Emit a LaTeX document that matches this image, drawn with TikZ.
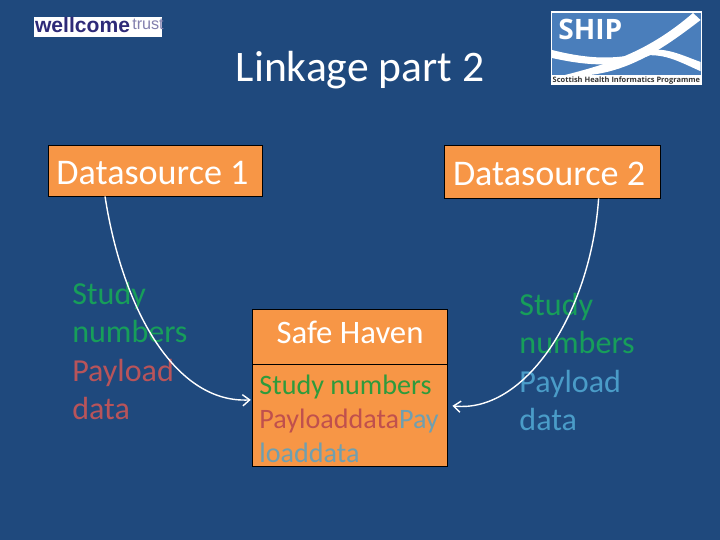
\documentclass[tikz,border=0pt]{standalone}
\usepackage{fontspec}
\setmainfont{Carlito}
\newfontfamily\logofont{Liberation Sans}
\newfontfamily\shipfont{Open Sans}
\usetikzlibrary{arrows.meta, calc}
\definecolor{kback}{HTML}{1F497D}
\definecolor{korange}{HTML}{F79646}
\definecolor{kgreen}{HTML}{179E5A}
\definecolor{kgreenb}{HTML}{2E9B3C}
\definecolor{kred}{HTML}{B8545A}
\definecolor{kredb}{HTML}{C0504D}
\definecolor{kcyan}{HTML}{4A9CC8}
\definecolor{kcyanb}{HTML}{6F9FB0}
\definecolor{kship}{HTML}{4A7EBB}
\definecolor{kwell}{HTML}{2E2A78}
\tikzset{
  titletext/.style={font=\fontsize{31}{36}\selectfont, text=white},
  sourcebox/.style={draw=black, line width=0.6pt, fill=korange, text=white, font=\fontsize{25.7}{30}\selectfont, inner sep=0pt, align=flush left, text height=0.68cm, text depth=0pt},
  listtext/.style={font=\fontsize{22.8}{27.3}\selectfont, align=flush left, anchor=north west, inner sep=0pt},
  linkarrow/.style={draw=white, line width=1pt, -{Straight Barb[length=5pt,width=8pt,line width=1pt]}},
}
\begin{document}
\begin{tikzpicture}[x=1cm, y=1cm]
\fill[kback] (0,0) rectangle (18,13.5);
% logos
\fill[white] (0.85,12.575) rectangle (4.05,13.075);
\node[font=\logofont\fontsize{15}{16}\selectfont\bfseries, text=kwell, anchor=base west, inner sep=0pt] (wellcome) at (0.87,12.675) {wellcome};
\node[font=\logofont\fontsize{11.5}{12}\selectfont, text=kwell!60, anchor=base west, inner sep=0pt] (trust) at (3.3,12.75) {trust};
\fill[white] (13.775,11.375) rectangle (17.55,13.225);
\fill[kship] (13.8,11.625) rectangle (17.515,13.175);
\node[font=\shipfont\fontsize{20}{22}\selectfont\bfseries, text=white, anchor=base west, inner sep=0pt] (ship) at (13.95,12.5) {SHIP};
\fill[white] (14.125,11.625) .. controls (15.2,11.9) and (16.2,12.2) .. (17.325,13.175) -- (17.515,13.0) .. controls (16.6,12.3) and (15.8,11.75) .. (14.75,11.625) -- cycle;
\fill[white] (13.8,12.25) .. controls (14.8,12.0) and (15.5,12.0) .. (16.3,12.25) .. controls (16.7,12.3) and (17.1,12.1) .. (17.515,11.95) -- (17.515,11.72) .. controls (17.0,11.95) and (16.7,12.12) .. (16.25,12.12) .. controls (15.5,11.8) and (14.7,11.85) .. (13.8,12.05) -- cycle;
\node[font=\shipfont\fontsize{5.3}{6}\selectfont\bfseries, text=black!80, anchor=base, inner sep=0pt] (shipcaption) at (15.66,11.44) {Scottish Health Informatics Programme};
% title
\node[titletext] (title) at (9,11.745) {Linkage part 2};
% boxes
\node[sourcebox, minimum width=5.36cm, minimum height=1.275cm, text width=4.96cm] (source1) at (3.89,9.2375) {Datasource 1};
\node[sourcebox, minimum width=5.4cm, minimum height=1.325cm, text width=4.95cm] (source2) at (13.8,9.2125) {Datasource 2};
\node[sourcebox, minimum width=4.86cm, minimum height=1.375cm, font=\fontsize{23.3}{27}\selectfont, align=flush center, text width=4.6cm, text height=0.6cm, text depth=0.25cm] (haven) at (8.75,5.0875) {Safe Haven};
\node[sourcebox, minimum width=4.86cm, minimum height=2.55cm, anchor=north, text height=, text depth=] (havendata) at (haven.south) {};
\node[listtext, font=\fontsize{20}{24.2}\selectfont] (havenlist) at (6.48,4.14) {\textcolor{kgreenb}{Study numbers}\\\textcolor{kredb}{Payloaddata}\textcolor{kcyanb}{Pay}\\\textcolor{kcyanb}{loaddata}};
% lists
\node[listtext] (list1) at (1.8,6.45) {\textcolor{kgreen}{Study}\\\textcolor{kgreen}{numbers}\\\textcolor{kred}{Payload}\\\textcolor{kred}{data}};
\node[listtext] (list2) at (12.98,6.18) {\textcolor{kgreen}{Study}\\\textcolor{kgreen}{numbers}\\\textcolor{kcyan}{Payload}\\\textcolor{kcyan}{data}};
% links
\draw[linkarrow] ($(source1.south west)!0.265!(source1.south east)$) .. controls +(0.45,-2.9) and +(-1.85,-0.1) .. ([xshift=-0.04cm,yshift=0.4cm]havendata.west);
\draw[linkarrow] ($(source2.south west)!0.715!(source2.south east)$) .. controls +(-0.2,-2.9) and +(1.8,-0.2) .. ([xshift=0.12cm,yshift=0.25cm]havendata.east);
\end{tikzpicture}
\end{document}
